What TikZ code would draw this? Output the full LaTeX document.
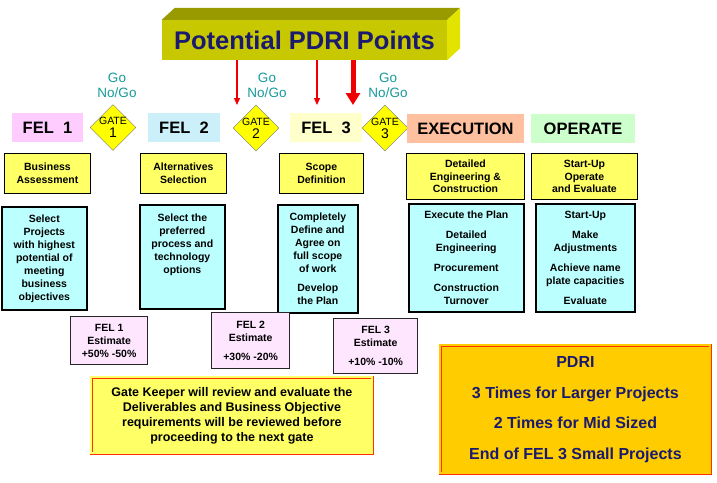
\documentclass[tikz,border=0pt]{standalone}
\usepackage{fontspec}
\setmainfont{Liberation Sans}
\usepackage{tikz}
\usetikzlibrary{arrows.meta,positioning,shapes.geometric}
\definecolor{barfront}{HTML}{C8C800}
\definecolor{bartop}{HTML}{999900}
\definecolor{barside}{HTML}{E3E300}
\definecolor{navy}{HTML}{1A1A6E}
\definecolor{goteal}{HTML}{169A9A}
\definecolor{arrowred}{HTML}{F00000}
\definecolor{gateyellow}{HTML}{FFFF00}
\definecolor{felpink}{HTML}{FFCCFF}
\definecolor{felcyan}{HTML}{CCF0FA}
\definecolor{felcream}{HTML}{FFFFCC}
\definecolor{execsalmon}{HTML}{FFC0A0}
\definecolor{opgreen}{HTML}{CCFFCC}
\definecolor{taskyellow}{HTML}{FFFF66}
\definecolor{detailcyan}{HTML}{BBFFFF}
\definecolor{estpink}{HTML}{FFE6FF}
\definecolor{pdrigold}{HTML}{FFCC00}
\definecolor{borderred}{HTML}{FF3300}

\begin{document}
\begin{tikzpicture}[x=1pt,y=-1pt,every node/.style={align=center,inner sep=0pt},
bar/.style={fill=barfront,minimum width=285pt,minimum height=40pt,text=navy,font=\fontsize{25.5}{28}\selectfont\bfseries},
phase/.style={minimum height=29pt,font=\fontsize{16.5}{18}\selectfont\bfseries},
gate/.style={diamond,aspect=1,draw=black!55,fill=gateyellow,minimum width=46pt,minimum height=46pt,inner sep=-3pt,font=\fontsize{10.5}{12}\selectfont},
gono/.style={text=goteal,font=\fontsize{13.5}{15}\selectfont},
task/.style={draw=black,line width=0.9pt,fill=taskyellow,anchor=north west,font=\fontsize{10.5}{12.5}\selectfont\bfseries},
detail/.style={draw=black,line width=1.6pt,fill=detailcyan,anchor=north west,font=\fontsize{10.5}{13}\selectfont\bfseries},
estimate/.style={draw=black!85,line width=1.3pt,fill=estpink,anchor=north west,font=\fontsize{10.5}{13}\selectfont\bfseries},
note/.style={draw=borderred,double=taskyellow,double distance=2pt,line width=0.8pt,fill=taskyellow,anchor=north west,font=\fontsize{12.5}{15}\selectfont\bfseries},
redarrow/.style={-{Triangle[length=7pt,width=6pt]},draw=arrowred,line width=1.3pt}]
\useasboundingbox[fill=white] (0,0) rectangle (717,482);
\node[bar] (bar) at (304.5,40) {Potential PDRI Points};
\fill[bartop] (bar.north west) -- ++(13,-12) -- ([shift={(13,-12)}]bar.north east) -- (bar.north east) -- cycle;
\fill[barside] (bar.north east) -- ++(13,-12) -- ([shift={(13,-12)}]bar.south east) -- (bar.south east) -- cycle;
\coordinate (a1) at (237,105); \coordinate (a2) at (317,105); \coordinate (a3) at (353,105);
\draw[redarrow] (a1 |- bar.south) -- (a1);
\draw[redarrow] (a2 |- bar.south) -- (a2);
\draw[redarrow,line width=5pt,-{Triangle[length=12pt,width=14pt]}] (a3 |- bar.south) -- (a3);
\node[gono] (go1) at (117,85) {Go\\No/Go};
\node[gono] (go2) at (267,85) {Go\\No/Go};
\node[gono] (go3) at (388,85) {Go\\No/Go};
\node[phase,fill=felpink,minimum width=71pt] (fel1) at (47.5,127.5) {FEL\ \ 1};
\node[gate] (g1) at (113,127.5) {GATE\\[1pt]{\fontsize{14}{14}\selectfont 1}};
\node[phase,fill=felcyan,minimum width=72pt] (fel2) at (184,127.5) {FEL\ \ 2};
\node[gate] (g2) at (256,128) {GATE\\[1pt]{\fontsize{14}{14}\selectfont 2}};
\node[phase,fill=felcream,minimum width=72pt] (fel3) at (326,127.5) {FEL\ \ 3};
\node[gate] (g3) at (385,128) {GATE\\[1pt]{\fontsize{14}{14}\selectfont 3}};
\node[phase,fill=execsalmon,minimum width=117pt] (exec) at (465.5,128.5) {EXECUTION};
\node[phase,fill=opgreen,minimum width=104pt] (oper) at (583,128.5) {OPERATE};
\node[task,minimum width=86pt,minimum height=40pt] (t1) at (4,153) {Business\\Assessment};
\node[task,minimum width=86pt,minimum height=40pt] (t2) at (140,153) {Alternatives\\Selection};
\node[task,minimum width=84pt,minimum height=40pt] (t3) at (279,153) {Scope\\Definition};
\node[task,minimum width=118pt,minimum height=46pt] (t4) at (406,153) {Detailed\\Engineering \&\\Construction};
\node[task,minimum width=106pt,minimum height=46pt] (t5) at (531,153) {Start-Up\\Operate\\and Evaluate};
\node[detail,minimum width=85pt,minimum height=103pt] (d1) at (1,206) {Select\\Projects\\with highest\\potential of\\meeting\\business\\objectives};
\node[detail,minimum width=85pt,minimum height=104pt] (d2) at (139,204) {};
\node[font=\fontsize{10.5}{13}\selectfont\bfseries,below=10pt of d2.north] (d2text) {Select the\\preferred\\process and\\technology\\options};
\node[detail,minimum width=80pt,minimum height=108pt] (d3) at (277,204) {Completely\\Define and\\Agree on\\full scope\\of work\\[6pt]Develop\\the Plan};
\node[detail,minimum width=115pt,minimum height=108pt] (d4) at (408,203) {Execute the Plan\\[7pt]Detailed\\Engineering\\[7pt]Procurement\\[7pt]Construction\\Turnover};
\node[detail,minimum width=99pt,minimum height=108pt] (d5) at (535,203) {Start-Up\\[7pt]Make\\Adjustments\\[7pt]Achieve name\\plate capacities\\[7pt]Evaluate};
\node[estimate,minimum width=77pt,minimum height=48pt] (e1) at (70,316) {FEL 1\\Estimate\\+50\% -50\%};
\node[estimate,minimum width=78pt,minimum height=56pt] (e2) at (211,312) {FEL 2\\Estimate\\[6pt]+30\% -20\%};
\node[estimate,minimum width=84pt,minimum height=55pt] (e3) at (333,318) {FEL 3\\Estimate\\[6pt]+10\% -10\%};
\node[note,minimum width=281pt,minimum height=76pt] (keeper) at (91,377) {Gate Keeper will review and evaluate the\\Deliverables and Business Objective\\requirements will be reviewed before\\proceeding to the next gate};
\node[note,fill=pdrigold,double=pdrigold,text=navy,minimum width=270pt,minimum height=128pt,font=\fontsize{16}{30.5}\selectfont\bfseries] (pdri) at (440,345) {PDRI\\3 Times for Larger Projects\\2 Times for Mid Sized\\End of FEL 3 Small Projects};
\end{tikzpicture}
\end{document}
